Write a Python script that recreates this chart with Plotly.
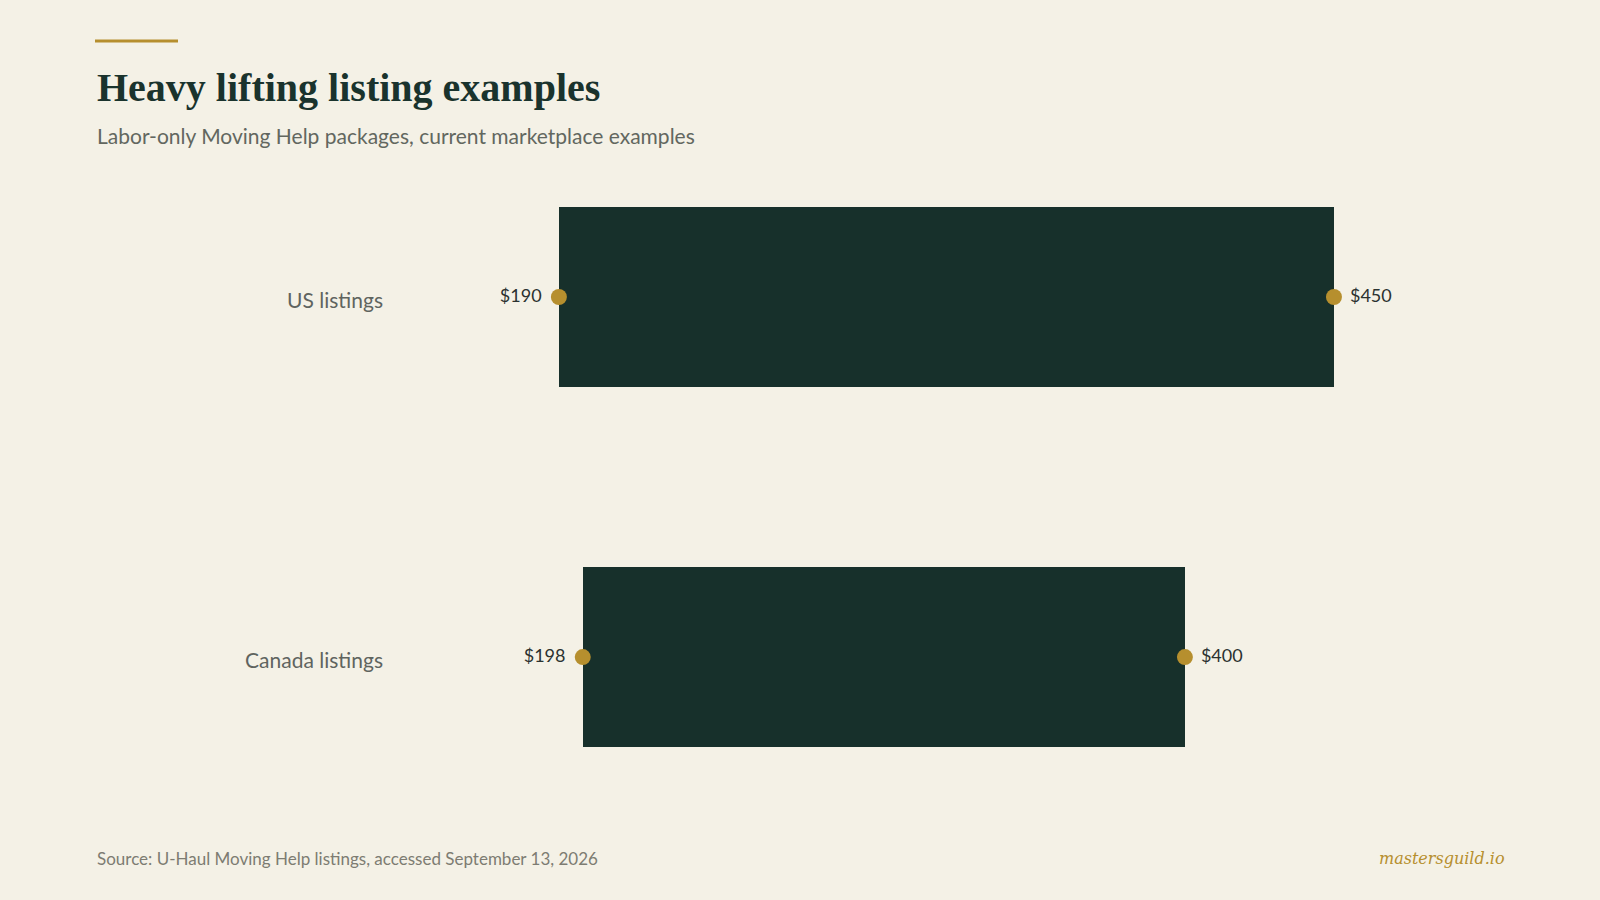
import plotly.graph_objects as go

categories = ["US listings", "Canada listings"]
low_values = [190, 198]
high_values = [450, 400]
low_labels = ["$190", "$198"]
high_labels = ["$450", "$400"]

BG = "#f4f1e6"
DARK = "#17302b"
GOLD = "#b68f2e"
SANS = "Lato, 'Open Sans', sans-serif"
SERIF = "'Liberation Serif', 'DejaVu Serif', serif"

L, R, T, B = 400, 100, 180, 100
PW, PH = 1600 - L - R, 900 - T - B


def px_x(px):
    return (px - L) / PW


def px_y(py):
    return 1 - (py - T) / PH


fig = go.Figure()
fig.add_trace(go.Bar(
    y=categories,
    x=[h - l for h, l in zip(high_values, low_values)],
    base=low_values,
    orientation="h",
    width=0.5,
    marker=dict(color=DARK, line=dict(width=0)),
    hoverinfo="skip",
    showlegend=False,
))
# value labels (invisible larger markers to push text away from the dots)
fig.add_trace(go.Scatter(
    y=categories, x=low_values, mode="markers+text",
    text=low_labels, textposition="middle left",
    textfont=dict(family=SANS, size=18, color="#2b3230"),
    marker=dict(color=GOLD, size=26, opacity=0),
    showlegend=False, hoverinfo="skip",
))
fig.add_trace(go.Scatter(
    y=categories, x=high_values, mode="markers+text",
    text=high_labels, textposition="middle right",
    textfont=dict(family=SANS, size=18, color="#2b3230"),
    marker=dict(color=GOLD, size=24, opacity=0),
    showlegend=False, hoverinfo="skip",
))
# endpoint dots
fig.add_trace(go.Scatter(
    y=categories + categories, x=low_values + high_values, mode="markers",
    marker=dict(color=GOLD, size=16),
    showlegend=False, hoverinfo="skip",
))

fig.update_layout(
    width=1600, height=900,
    paper_bgcolor=BG, plot_bgcolor=BG,
    margin=dict(l=L, r=R, t=T, b=B),
    bargap=0,
    xaxis=dict(range=[136.7, 505.7], visible=False, fixedrange=True),
    yaxis=dict(
        type="category", categoryorder="array", categoryarray=categories,
        range=[1.397, -0.325], showgrid=False, zeroline=False, showline=False,
        ticks="", ticklabelstandoff=16, ticklabelshift=-4, fixedrange=True,
        tickfont=dict(family=SANS, size=21, color="#5f645f"),
    ),
    shapes=[dict(type="line", xref="paper", yref="paper",
                 x0=px_x(95), x1=px_x(178), y0=px_y(41), y1=px_y(41),
                 line=dict(color=GOLD, width=3))],
    annotations=[
        dict(text="<b>Heavy lifting listing examples</b>", xref="paper", yref="paper",
             x=px_x(95), y=px_y(88), xanchor="left", yanchor="middle",
             showarrow=False, font=dict(family=SERIF, size=40, color="#1a332d")),
        dict(text="Labor-only Moving Help packages, current marketplace examples",
             xref="paper", yref="paper", x=px_x(95), y=px_y(135),
             xanchor="left", yanchor="middle", showarrow=False,
             font=dict(family=SANS, size=21, color="#62675f")),
        dict(text="Source: U-Haul Moving Help listings, accessed September 13, 2026",
             xref="paper", yref="paper", x=px_x(95), y=px_y(858),
             xanchor="left", yanchor="middle", showarrow=False,
             font=dict(family=SANS, size=17, color="#7d7c72")),
        dict(text="<i>mastersguild.io</i>", xref="paper", yref="paper",
             x=px_x(1507), y=px_y(858),
             xanchor="right", yanchor="middle", showarrow=False,
             font=dict(family="'DejaVu Serif', serif", size=16, color=GOLD)),
    ],
)

fig.write_html(
    "out.html",
    config={"displayModeBar": False},
    post_script="document.body.style.margin='0px';document.body.style.background='%s';" % BG,
)
